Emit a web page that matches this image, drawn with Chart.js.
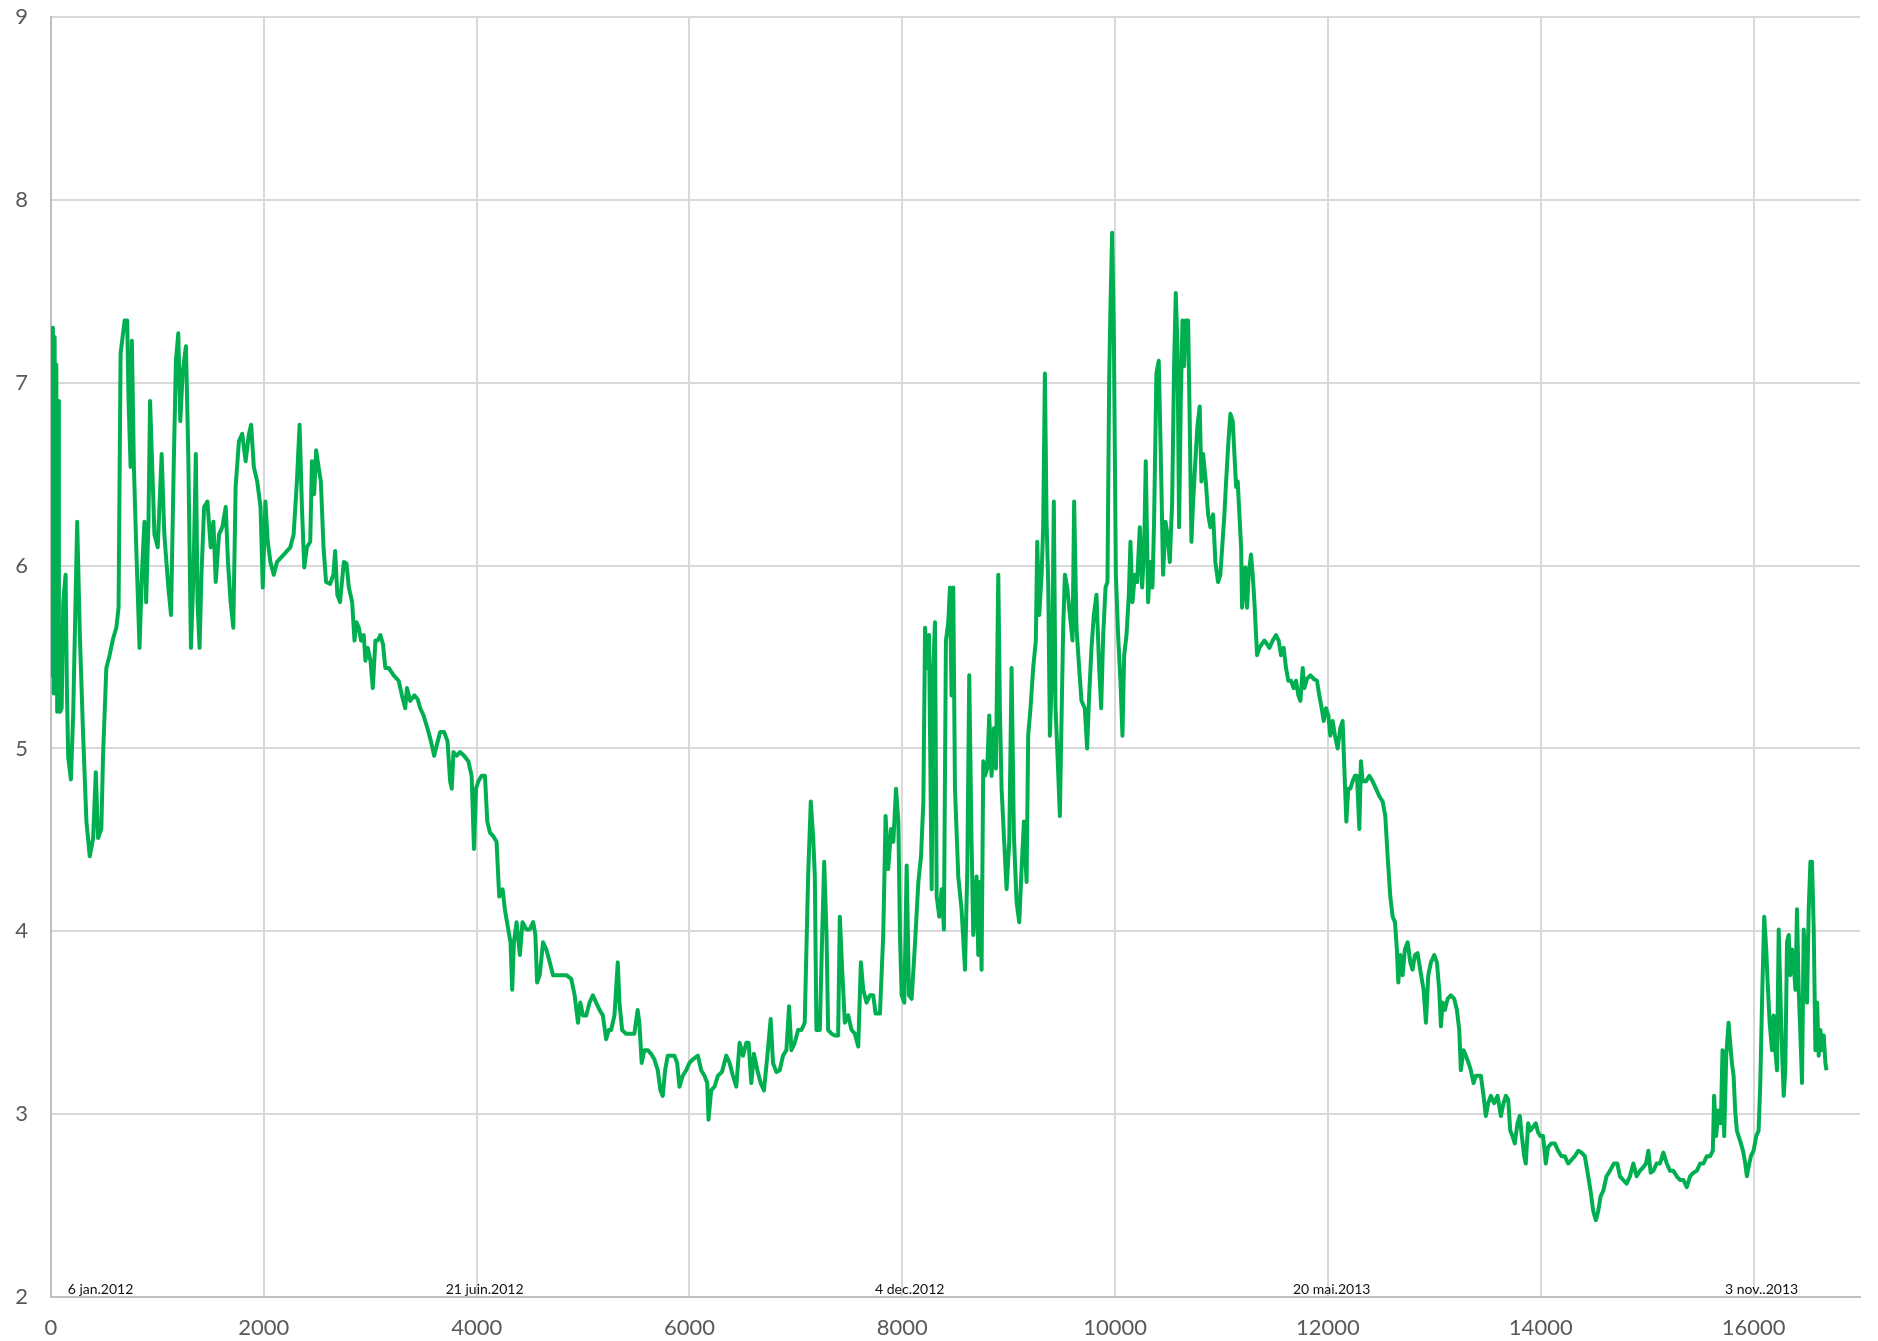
<!DOCTYPE html>
<html>
<head>
<meta charset="utf-8">
<script src="https://cdn.jsdelivr.net/npm/chart.js@4.4.1/dist/chart.umd.min.js"></script>
<style>
    html, body { margin: 0; padding: 0; background: #fff; }
    #wrap { position: relative; width: 1878px; height: 1341px; }
</style>
</head>
<body>
<div id="wrap"><canvas id="priceChart"></canvas></div>
<script>
// hour index since 6 jan 2012, and the price read at that hour
const hours = [
    0, 10, 18, 26, 34, 42, 50, 58, 66, 74, 84, 100, 115, 137, 150, 162, 187, 209, 246, 271,
    302, 333, 364, 396, 421, 442, 473, 489, 520, 551, 583, 614, 635, 654, 692, 716, 729, 748, 760, 779,
    801, 832, 854, 878, 894, 916, 931, 956, 972, 1003, 1040, 1065, 1103, 1128, 1153, 1174, 1196, 1215, 1237, 1268,
    1290, 1315, 1339, 1361, 1377, 1396, 1414, 1439, 1470, 1501, 1526, 1548, 1579, 1610, 1642, 1663, 1688, 1713, 1735, 1766,
    1797, 1829, 1860, 1881, 1906, 1938, 1969, 1990, 2015, 2037, 2062, 2093, 2124, 2187, 2249, 2280, 2311, 2336, 2358, 2380,
    2405, 2436, 2452, 2473, 2492, 2514, 2536, 2561, 2585, 2623, 2654, 2670, 2691, 2716,
    2752, 2777, 2799, 2830, 2852, 2871, 2893, 2914, 2939, 2955, 2977, 3002, 3024, 3049, 3070, 3095, 3120, 3142, 3173, 3220,
    3267, 3298, 3329, 3345, 3376, 3414, 3445, 3470, 3501, 3538, 3570, 3601, 3626, 3657, 3694, 3726, 3751, 3766, 3782, 3813,
    3844, 3882, 3922, 3953, 3975, 3994, 4016, 4047, 4078, 4100, 4125, 4156, 4187, 4212, 4244, 4265, 4297, 4318, 4334, 4350,
    4375, 4406, 4431, 4468, 4499, 4531, 4552, 4568, 4593, 4624, 4655, 4687, 4718, 4749, 4796, 4843, 4889, 4921, 4952, 4974,
    4999, 5030, 5061, 5092, 5123, 5155, 5186, 5217, 5242, 5264, 5295, 5326, 5342, 5367, 5404, 5451, 5482, 5513, 5529,
    5551, 5576, 5608, 5639, 5670, 5702, 5727, 5749, 5771, 5796, 5827, 5859, 5884, 5906, 5937, 5969, 6000, 6032, 6079, 6110,
    6141, 6167, 6179, 6204, 6236, 6267, 6305, 6346, 6377, 6408, 6440, 6471, 6503, 6534, 6556, 6581, 6606, 6638, 6669, 6700,
    6732, 6763, 6785, 6817, 6848, 6879, 6911, 6936, 6958, 6989, 7021, 7052, 7083, 7099, 7115, 7140, 7162, 7178, 7193, 7225,
    7247, 7266, 7288, 7303, 7335, 7366, 7397, 7413, 7435, 7460, 7492, 7523, 7554, 7586, 7611, 7633, 7664, 7696, 7727, 7749,
    7790, 7821, 7843, 7868, 7894, 7916, 7941, 7963, 7978, 7994, 8019, 8041, 8063, 8088, 8120, 8151, 8176, 8198, 8214, 8233, 8251,
    8276, 8291, 8307, 8323, 8348, 8370, 8391, 8410, 8432, 8448, 8463, 8479, 8495, 8526, 8557, 8589, 8611, 8629, 8651, 8667,
    8698, 8714, 8730, 8745, 8761, 8776, 8798, 8817, 8839, 8861, 8880, 8902, 8917, 8933, 8955, 8980, 9005, 9027, 9049, 9074,
    9099, 9121, 9143, 9168, 9183, 9205, 9230, 9255, 9268, 9287, 9309, 9324, 9340, 9356, 9371, 9387, 9406, 9424, 9440, 9456,
    9481, 9496, 9512, 9528, 9550, 9575, 9600, 9615, 9637, 9662, 9684, 9715, 9737, 9756, 9778, 9800, 9825, 9850, 9869, 9888,
    9910, 9928, 9944, 9956, 9972, 9988, 10007, 10028, 10050, 10069, 10085, 10107, 10129, 10144, 10163, 10185, 10207, 10232, 10254, 10273,
    10288, 10310, 10332, 10351, 10366, 10388, 10410, 10429, 10451, 10473, 10492, 10514, 10536, 10554, 10570, 10586, 10601, 10617, 10633, 10648,
    10664, 10686, 10701, 10717, 10733, 10751, 10773, 10795, 10811, 10827, 10852, 10874, 10895, 10921, 10942, 10967, 10989,
    11027, 11043, 11065, 11083, 11105, 11121, 11137, 11152, 11168, 11184, 11193, 11209, 11224, 11240, 11255, 11277, 11293, 11309, 11334, 11356,
    11378, 11403, 11428, 11450, 11481, 11512, 11537, 11559, 11584, 11606, 11628, 11653, 11678, 11700, 11722, 11741, 11763, 11778, 11803, 11835,
    11866, 11897, 11919, 11941, 11960, 11982, 12004, 12022, 12044, 12066, 12091, 12116, 12138, 12154, 12173, 12191, 12210, 12232, 12254, 12273,
    12295, 12310, 12326, 12357, 12389, 12420, 12451, 12482, 12514, 12539, 12561, 12586, 12608, 12630, 12648, 12661, 12680, 12702, 12723, 12749,
    12774, 12795, 12817, 12842, 12867, 12899, 12921, 12943, 12968, 12999, 13024, 13046, 13062, 13077, 13099, 13124, 13155, 13187, 13212, 13234,
    13249, 13274, 13296, 13321, 13343, 13368, 13390, 13412, 13437, 13462, 13484, 13506, 13531, 13562, 13594, 13625, 13650, 13672, 13694, 13713,
    13734, 13756, 13781, 13803, 13822, 13844,
    13859, 13881, 13902, 13928, 13953, 13975, 13997, 14022, 14047, 14069, 14100, 14132, 14163, 14195, 14226, 14257, 14289, 14320, 14352, 14383,
    14414, 14446, 14468, 14493, 14518, 14540, 14562, 14587, 14618, 14650, 14687, 14719, 14744, 14775, 14807, 14838, 14870, 14901, 14932, 14964,
    14989, 15011, 15033, 15058, 15089, 15121, 15152, 15184, 15215, 15246, 15278, 15309, 15341, 15372, 15403, 15435, 15466, 15498, 15529, 15560,
    15592, 15617, 15629, 15648, 15670, 15692, 15708, 15724, 15743, 15765, 15780, 15796, 15812, 15827, 15843, 15859, 15881, 15900, 15922, 15937,
    15953, 15975, 16000, 16025, 16047, 16063, 16082, 16100, 16119, 16132, 16151, 16173, 16188, 16204, 16220, 16236, 16251, 16267, 16283, 16298,
    16314, 16330, 16345, 16361, 16377, 16393, 16408, 16424, 16440, 16455, 16471, 16487, 16502, 16518, 16534, 16549, 16565, 16581, 16597, 16612,
    16628, 16644, 16659, 16675, 16685
];

const prices = [
    7.2, 5.4, 7.3, 5.3, 7.25, 5.6, 7.1, 5.2, 6.9, 5.5, 5.2, 5.22, 5.8, 5.95, 5.3, 4.95, 4.83, 5.2, 6.24, 5.62,
    5.07, 4.6, 4.41, 4.51, 4.87, 4.51, 4.56, 4.96, 5.44, 5.51, 5.6, 5.66, 5.77, 7.16, 7.34, 7.34, 6.9, 6.54, 7.23, 6.54,
    6.1, 5.55, 5.95, 6.24, 5.8, 6.24, 6.9, 6.46, 6.17, 6.1, 6.61, 6.17, 5.88, 5.73, 6.54, 7.12, 7.27, 6.79, 7.05, 7.2,
    6.61, 5.55, 5.95, 6.61, 5.8, 5.55, 5.95, 6.32, 6.35, 6.1, 6.24, 5.91, 6.17, 6.21, 6.32, 6.02, 5.8, 5.66, 6.43, 6.68,
    6.72, 6.57, 6.72, 6.77, 6.54, 6.46, 6.32, 5.88, 6.35, 6.13, 6.02, 5.95, 6.02, 6.06, 6.1, 6.17, 6.46, 6.77, 6.32, 5.99,
    6.1, 6.13, 6.57, 6.39, 6.63, 6.54, 6.46, 6.1, 5.91, 5.9, 5.95, 6.08, 5.84, 5.8,
    6.02, 6.01, 5.88, 5.8, 5.59, 5.69, 5.66, 5.59, 5.62, 5.48, 5.55, 5.48, 5.33, 5.59, 5.59, 5.62, 5.57, 5.44, 5.44, 5.4,
    5.37, 5.29, 5.22, 5.33, 5.26, 5.29, 5.27, 5.22, 5.18, 5.11, 5.04, 4.96, 5.02, 5.09, 5.09, 5.04, 4.82, 4.78, 4.98, 4.96,
    4.98, 4.96, 4.93, 4.85, 4.45, 4.78, 4.82, 4.85, 4.85, 4.6, 4.54, 4.52, 4.49, 4.19, 4.23, 4.12, 4.01, 3.94, 3.68, 3.94,
    4.05, 3.87, 4.05, 4.01, 4.01, 4.05, 3.98, 3.72, 3.76, 3.94, 3.9, 3.83, 3.76, 3.76, 3.76, 3.76, 3.74, 3.65, 3.5, 3.61,
    3.54, 3.54, 3.61, 3.65, 3.61, 3.57, 3.54, 3.41, 3.46, 3.46, 3.54, 3.83, 3.61, 3.46, 3.44, 3.44, 3.44, 3.57, 3.5,
    3.28, 3.35, 3.35, 3.33, 3.3, 3.24, 3.13, 3.1, 3.24, 3.32, 3.32, 3.32, 3.28, 3.15, 3.21, 3.24, 3.28, 3.3, 3.32, 3.24,
    3.21, 3.17, 2.97, 3.13, 3.15, 3.21, 3.23, 3.32, 3.28, 3.21, 3.15, 3.39, 3.32, 3.39, 3.39, 3.17, 3.33, 3.24, 3.17, 3.13,
    3.32, 3.52, 3.28, 3.23, 3.24, 3.32, 3.35, 3.59, 3.35, 3.39, 3.46, 3.46, 3.5, 3.9, 4.3, 4.71, 4.52, 4.3, 3.46, 3.46,
    3.98, 4.38, 3.98, 3.46, 3.44, 3.43, 3.43, 4.08, 3.79, 3.5, 3.54, 3.46, 3.44, 3.37, 3.83, 3.68, 3.61, 3.65, 3.65, 3.55,
    3.55, 3.98, 4.63, 4.34, 4.56, 4.49, 4.78, 4.6, 3.98, 3.65, 3.61, 4.36, 3.65, 3.63, 3.94, 4.27, 4.41, 4.71, 5.66, 5.44, 5.62,
    4.23, 5.44, 5.69, 4.19, 4.08, 4.23, 4.01, 5.59, 5.69, 5.88, 5.29, 5.88, 4.78, 4.3, 4.12, 3.79, 4.34, 5.4, 4.49, 3.98,
    4.3, 3.87, 4.27, 3.79, 4.93, 4.85, 4.89, 5.18, 4.85, 5.11, 4.89, 5.95, 5.22, 4.78, 4.52, 4.23, 4.49, 5.44, 4.52, 4.16,
    4.05, 4.34, 4.6, 4.27, 5.07, 5.22, 5.44, 5.59, 6.13, 5.73, 5.95, 6.21, 7.05, 6.24, 5.91, 5.07, 5.4, 6.35, 5.22, 5.0,
    4.63, 5.15, 5.66, 5.95, 5.88, 5.73, 5.59, 6.35, 5.66, 5.44, 5.26, 5.22, 5.0, 5.29, 5.55, 5.73, 5.84, 5.44, 5.22, 5.62,
    5.88, 5.91, 7.01, 7.41, 7.82, 7.27, 5.95, 5.62, 5.37, 5.07, 5.51, 5.62, 5.84, 6.13, 5.8, 5.95, 5.91, 6.21, 5.88, 6.1,
    6.57, 5.8, 6.02, 5.88, 6.24, 7.05, 7.12, 6.61, 5.95, 6.24, 6.17, 6.02, 6.35, 7.09, 7.49, 7.2, 6.21, 6.9, 7.34, 7.09,
    7.34, 7.34, 6.79, 6.13, 6.35, 6.54, 6.76, 6.87, 6.46, 6.61, 6.46, 6.28, 6.21, 6.28, 6.02, 5.91, 5.95,
    6.28, 6.46, 6.68, 6.83, 6.79, 6.61, 6.43, 6.46, 6.28, 6.1, 5.77, 5.88, 5.99, 5.77, 5.95, 6.06, 5.95, 5.8, 5.51, 5.55,
    5.57, 5.59, 5.57, 5.55, 5.59, 5.62, 5.59, 5.51, 5.55, 5.44, 5.37, 5.37, 5.33, 5.37, 5.29, 5.26, 5.44, 5.33, 5.38, 5.4,
    5.38, 5.37, 5.29, 5.22, 5.15, 5.22, 5.18, 5.07, 5.15, 5.07, 5.0, 5.11, 5.15, 4.89, 4.6, 4.78, 4.78, 4.82, 4.85, 4.85,
    4.56, 4.93, 4.82, 4.82, 4.85, 4.82, 4.78, 4.74, 4.71, 4.63, 4.41, 4.19, 4.08, 4.05, 3.9, 3.72, 3.87, 3.76, 3.9, 3.94,
    3.83, 3.79, 3.87, 3.88, 3.79, 3.68, 3.5, 3.76, 3.83, 3.87, 3.83, 3.68, 3.48, 3.61, 3.57, 3.63, 3.65, 3.63, 3.57, 3.46,
    3.24, 3.35, 3.32, 3.28, 3.24, 3.17, 3.21, 3.21, 3.21, 3.1, 2.99, 3.06, 3.1, 3.06, 3.1, 2.99, 3.06, 3.1, 3.08, 2.91,
    2.88, 2.84, 2.95, 2.99, 2.88, 2.77,
    2.73, 2.95, 2.91, 2.93, 2.95, 2.9, 2.88, 2.88, 2.73, 2.82, 2.84, 2.84, 2.8, 2.77, 2.77, 2.73, 2.75, 2.77, 2.8, 2.79,
    2.77, 2.66, 2.58, 2.47, 2.42, 2.47, 2.55, 2.58, 2.66, 2.69, 2.73, 2.73, 2.66, 2.64, 2.62, 2.66, 2.73, 2.66, 2.69, 2.71,
    2.73, 2.8, 2.68, 2.69, 2.73, 2.73, 2.79, 2.73, 2.69, 2.69, 2.66, 2.64, 2.64, 2.6, 2.66, 2.68, 2.69, 2.73, 2.73, 2.77,
    2.77, 2.8, 3.1, 2.88, 3.02, 2.95, 3.35, 2.88, 3.32, 3.5, 3.39, 3.28, 3.21, 3.02, 2.91, 2.88, 2.84, 2.8, 2.73, 2.66,
    2.71, 2.77, 2.8, 2.88, 2.91, 3.17, 3.68, 4.08, 3.9, 3.72, 3.5, 3.35, 3.54, 3.35, 3.24, 4.01, 3.68, 3.35, 3.1, 3.24,
    3.94, 3.98, 3.76, 3.9, 3.83, 3.68, 4.12, 3.68, 3.43, 3.17, 4.01, 3.83, 3.61, 4.12, 4.38, 4.38, 4.01, 3.35, 3.61, 3.32,
    3.46, 3.35, 3.43, 3.28, 3.24
];

// x axis runs to 17000 but is only labelled up to 16000
const xTickValues = [0, 2000, 4000, 6000, 8000, 10000, 12000, 14000, 16000];

// date markers written along the bottom of the plot
const dateLabels = ['6 jan.2012', '21 juin.2012', '4 dec.2012', '20 mai.2013', '3 nov..2013'];
const dateLabelHours = [465, 4075, 8070, 12035, 16075];

const tickFont = { family: 'Lato, "Open Sans", sans-serif', size: 22 };

const dateMarkers = {
    id: 'dateMarkers',
    afterDraw(chart) {
        const { ctx, chartArea, scales } = chart;
        ctx.save();
        ctx.font = '14px Lato, "Open Sans", sans-serif';
        ctx.fillStyle = '#111';
        ctx.textAlign = 'center';
        ctx.textBaseline = 'middle';
        dateLabels.forEach((txt, i) => {
            ctx.fillText(txt, scales.x.getPixelForValue(dateLabelHours[i]), chartArea.bottom - 8);
        });
        ctx.restore();
    }
};

const points = hours.map((h, i) => ({ x: h, y: prices[i] }));

new Chart(document.getElementById('priceChart'), {
    type: 'line',
    data: {
        datasets: [{
            data: points,
            borderColor: '#00b050',
            borderWidth: 4,
            borderJoinStyle: 'round',
            pointRadius: 0,
            tension: 0,
            fill: false
        }]
    },
    options: {
        responsive: true,
        maintainAspectRatio: false,
        animation: false,
        layout: { padding: { top: 0, right: 18, left: 0, bottom: 0 } },
        plugins: {
            legend: { display: false },
            tooltip: { enabled: false }
        },
        scales: {
            x: {
                type: 'linear',
                min: 0,
                max: 17000,
                afterBuildTicks(scale) {
                    scale.ticks = xTickValues.map(v => ({ value: v }));
                },
                ticks: {
                    maxRotation: 0,
                    autoSkip: false,
                    color: '#595959',
                    font: tickFont,
                    padding: 18,
                    callback: v => String(v)
                },
                grid: { color: '#d9d9d9', lineWidth: 2, drawTicks: false },
                border: { color: '#bfbfbf', width: 2 },
                afterFit(scale) { scale.height = 44; }
            },
            y: {
                min: 2,
                max: 9,
                ticks: {
                    stepSize: 1,
                    color: '#595959',
                    font: tickFont,
                    padding: 23
                },
                grid: { color: '#d9d9d9', lineWidth: 2, drawTicks: false },
                border: { color: '#bfbfbf', width: 2 },
                afterFit(scale) {
                    scale.width = 51;
                    // plot starts 17px below the top edge
                    scale.paddingTop = 17;
                    scale.paddingBottom = 0;
                }
            }
        }
    },
    plugins: [dateMarkers]
});
</script>
</body>
</html>
